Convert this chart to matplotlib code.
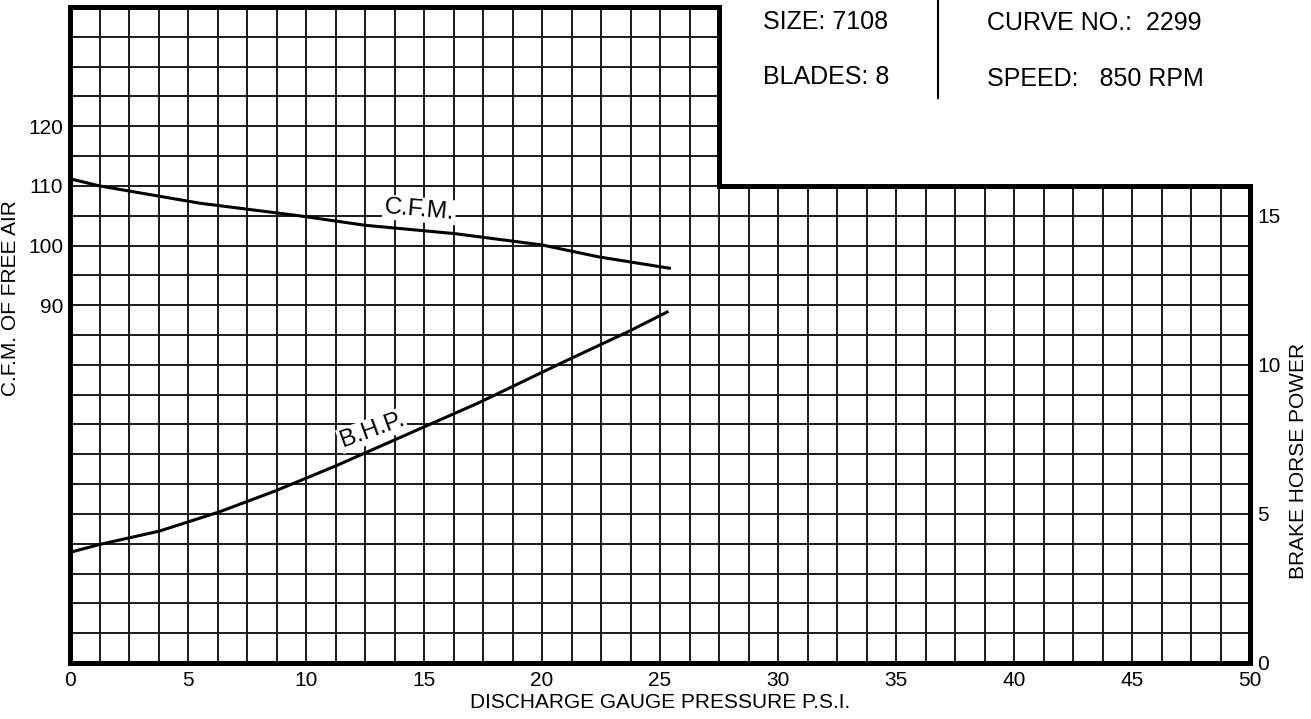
import numpy as np
import matplotlib
matplotlib.use("Agg")
import matplotlib.pyplot as plt

plt.rcParams['font.family'] = ['Liberation Sans', 'DejaVu Sans']

# C.F.M. curve (left axis)
psi_cfm = [0, 1.25, 5.5, 9.7, 12.5, 16.3, 20.0, 22.4, 25.4]
cfm = [111.2, 110.0, 107.1, 105.0, 103.4, 102.0, 100.1, 98.1, 96.2]

# B.H.P. curve (right axis)
psi_bhp = [0, 1.23, 3.77, 6.3, 8.7, 11.26, 17.3, 20.9, 23.7, 25.3]
bhp = [3.71, 3.97, 4.42, 5.06, 5.77, 6.61, 8.72, 10.09, 11.13, 11.77]

x_ticks = [0, 5, 10, 15, 20, 25, 30, 35, 40, 45, 50]
hp_ticks = [0, 5, 10, 15]
cfm_ticks = [90, 100, 110, 120]

header_left = ["SIZE: 7108", "BLADES: 8"]
header_right = ["CURVE NO.:  2299", "SPEED:   850 RPM"]

fig = plt.figure(figsize=(13.11, 7.19), dpi=100)
ax = fig.add_axes([70 / 1311, 56 / 719, 1180 / 1311, 656 / 719])
ax.set_xlim(0, 50)
ax.set_ylim(0, 22)

# notched grid: full height up to 27.5 psi, lower part to the right
step_x, step_y = 27.5, 16
grid_kw = dict(color='#1a1a1a', lw=1.4, zorder=1)
for gx in np.arange(1.25, 50, 1.25):
    top = 22 if gx < step_x + 1e-9 else step_y
    ax.plot([gx, gx], [0, top], **grid_kw)
for gy in range(1, 22):
    right = 50 if gy <= step_y else step_x
    ax.plot([0, right], [gy, gy], **grid_kw)

frame_x = [0, 50, 50, step_x, step_x, 0, 0]
frame_y = [0, 0, step_y, step_y, 22, 22, 0]
ax.plot(frame_x, frame_y, color='black', lw=3.6, solid_joinstyle='miter',
        clip_on=False, zorder=3)

for s in ax.spines.values():
    s.set_visible(False)

ax.plot(psi_bhp, bhp, color='black', lw=2.2, zorder=4)
ax.text(12.8, 7.8, "B.H.P.", fontsize=17.5, rotation=20, ha='center', va='center',
        bbox=dict(facecolor='white', edgecolor='none', pad=1), zorder=5)

ax2 = ax.twinx()
ax2.set_ylim(30, 140)
ax2.yaxis.tick_left()
ax2.yaxis.set_label_position('left')
ax2.set_yticks(cfm_ticks)
ax2.tick_params(length=0, labelsize=15, pad=5)
for s in ax2.spines.values():
    s.set_visible(False)
ax2.plot(psi_cfm, cfm, color='black', lw=2.2, zorder=4)
ax2.text(14.8, 106.0, "C.F.M.", fontsize=17.5, rotation=-5, ha='center', va='center',
         bbox=dict(facecolor='white', edgecolor='none', pad=1), zorder=5)
ax2.set_ylabel("C.F.M. OF FREE AIR", fontsize=15)
ax2.yaxis.set_label_coords(-0.042, 0.556)

# HP axis ticks go on the right (set after twinx, which moves them)
ax.set_xticks(x_ticks)
ax.set_yticks(hp_ticks)
ax.yaxis.tick_right()
ax.yaxis.set_label_position('right')
ax.tick_params(length=0, labelsize=15)
ax.tick_params(axis='x', pad=6)
ax.tick_params(axis='y', pad=5)
ax.set_xlabel("DISCHARGE GAUGE PRESSURE P.S.I.", fontsize=15, labelpad=2)
ax.set_ylabel("BRAKE HORSE POWER", fontsize=15, rotation=90)
ax.yaxis.set_label_coords(1.033, 0.308)

# header block in the cut-out corner
fig.text(762.7 / 1311, 1 - 21.7 / 719, header_left[0], fontsize=18, va='center')
fig.text(762.7 / 1311, 1 - 77 / 719, header_left[1], fontsize=18, va='center')
fig.text(987 / 1311, 1 - 22.7 / 719, header_right[0], fontsize=18, va='center')
fig.text(987 / 1311, 1 - 79 / 719, header_right[1], fontsize=18, va='center')
fig.add_artist(plt.Line2D([937.7 / 1311, 937.7 / 1311], [1.0, 1 - 98 / 719],
                          color='black', lw=1.5, transform=fig.transFigure))

fig.savefig("out.png", dpi=100)
